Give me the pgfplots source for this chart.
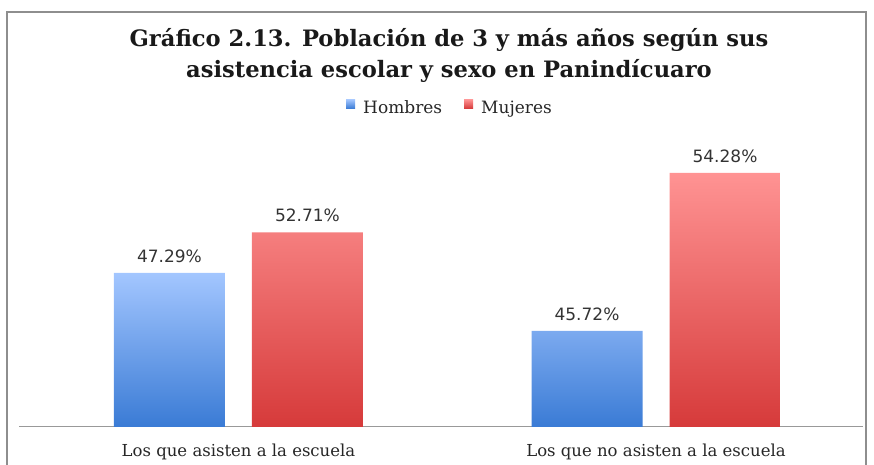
\documentclass[border=0pt]{standalone}
\usepackage{fontspec}
\setmainfont{DejaVu Serif}
\newfontfamily\lblfont{DejaVu Sans}
\usepackage{pgfplots}
\usepackage{pgfplotstable}
\pgfplotsset{compat=1.18}
\definecolor{bluetop}{HTML}{A3C6FF}
\definecolor{bluebot}{HTML}{3A7BD5}
\definecolor{redtop}{HTML}{FF9393}
\definecolor{redbot}{HTML}{D63A3A}
\definecolor{framegray}{HTML}{8E8E8E}

% h = drawn bar height (arbitrary units), pct = label
\pgfplotstableread{
x h pct
0 154 47.29
1 96 45.72
}\hombres
\pgfplotstableread{
x h pct
0 194.5 52.71
1 254 54.28
}\mujeres

\begin{document}
\begin{tikzpicture}[x=1pt,y=1pt]
\useasboundingbox (0,0) rectangle (874,465);
\draw[framegray, line width=1.3pt] (7,-10) -- (7,453) -- (866,453) -- (866,-10);
\node[anchor=base, inner sep=0pt, font=\bfseries\fontsize{22.6}{26}\selectfont, text=black!90] at (449,418) {Gráfico 2.13. Población de 3 y más años según sus};
\node[anchor=base, inner sep=0pt, font=\bfseries\fontsize{22.6}{26}\selectfont, text=black!90] at (449,387) {asistencia escolar y sexo en Panindícuaro};
\begin{axis}[
  at={(19pt,38pt)}, anchor=south west,
  scale only axis, width=844pt, height=277pt,
  xmin=-0.5257, xmax=1.4958, ymin=0, ymax=277,
  ybar, bar width=111pt,
  axis y line=none, axis x line*=bottom,
  x axis line style={-, draw=black!40, line width=1pt},
  xtick={0,1},
  xticklabels={Los que asisten a la escuela, Los que no asisten a la escuela},
  major tick length=0pt, ytick=\empty,
  xticklabel style={font=\fontsize{16.5}{19}\selectfont, text=black!85, anchor=base, yshift=-29pt, inner sep=0pt},
  clip=false,
  point meta=explicit,
  /pgf/number format/assume math mode=true,
  nodes near coords={\pgfmathprintnumber[fixed,fixed zerofill,precision=2]{\pgfplotspointmeta}\%},
  every node near coord/.append style={font=\lblfont\fontsize{17}{20}\selectfont, text=black!80, inner sep=0pt, yshift=10.5pt},
  legend columns=2,
  legend style={draw=none, fill=none, at={(0.5107,1.1516)}, anchor=center,
    font=\fontsize{17}{19}\selectfont, text=black!85, inner sep=0pt,
    /tikz/every odd column/.append style={column sep=6pt},
    /tikz/every even column/.append style={column sep=20pt}},
]
\addplot[bar shift=-69pt, draw=none, shading=axis, top color=bluetop, bottom color=bluebot,
  legend image code/.code={\fill[bluebot!75!bluetop] (0pt,-0.5pt) rectangle (9pt,8.5pt);}]
  table[x=x, y=h, meta=pct] {\hombres};
\addlegendentry{Hombres}
\addplot[bar shift=69pt, draw=none, shading=axis, top color=redtop, bottom color=redbot,
  legend image code/.code={\fill[redbot!75!redtop] (0pt,-0.5pt) rectangle (9pt,8.5pt);}]
  table[x=x, y=h, meta=pct] {\mujeres};
\addlegendentry{Mujeres}
\end{axis}
\end{tikzpicture}
\end{document}
